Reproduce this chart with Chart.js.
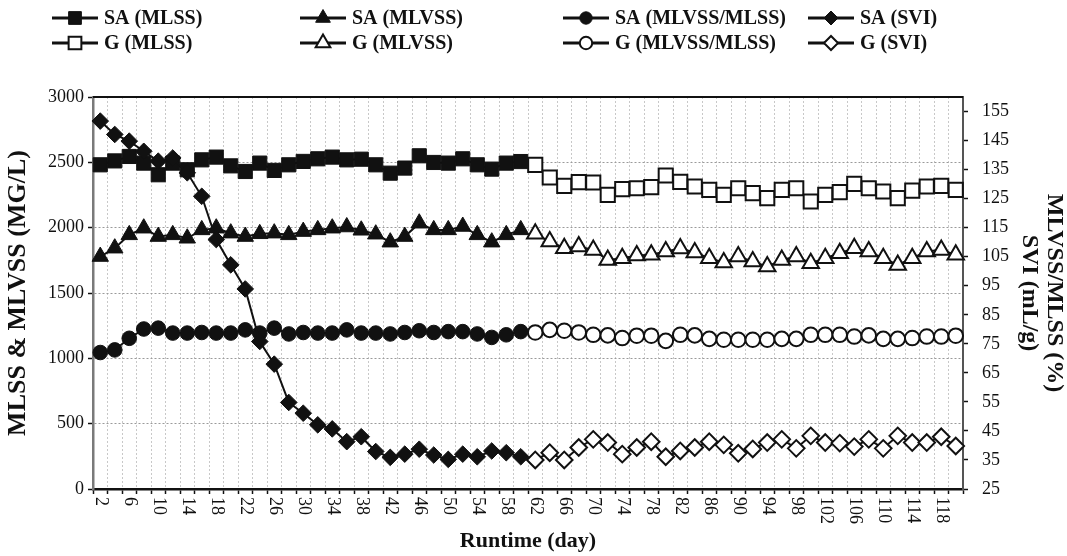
<!DOCTYPE html>
<html><head><meta charset="utf-8">
<script src="https://cdn.jsdelivr.net/npm/chart.js@4.4.0/dist/chart.umd.min.js"></script>
<style>html,body{margin:0;padding:0;background:#fff;}#wrap{position:relative;width:1067px;height:556px;}</style>
</head><body><div id="wrap"><canvas id="c" width="1067" height="556"></canvas></div>
<script>
const days = [2,4,6,8,10,12,14,16,18,20,22,24,26,28,30,32,34,36,38,40,42,44,46,48,50,52,54,56,58,60,
  62,64,66,68,70,72,74,76,78,80,82,84,86,88,90,92,94,96,98,100,102,104,106,108,110,112,114,116,118,120];
const leftTicks = [0,500,1000,1500,2000,2500,3000];
const rightTicks = [25,35,45,55,65,75,85,95,105,115,125,135,145,155];

const saMLSS = [2481,2511,2545,2494,2405,2494,2443,2519,2540,2473,2430,2494,2438,2481,2507,2527,2540,2519,2524,2481,2417,2456,2550,2499,2494,2527,2481,2448,2494,2506];
const saMLVSS = [1779,1843,1945,1996,1932,1945,1919,1983,1996,1958,1932,1953,1958,1945,1970,1983,1996,2005,1980,1950,1889,1932,2034,1983,1983,2009,1945,1889,1945,1983];
const saRatio = [72.0,72.9,76.9,80.1,80.4,78.7,78.7,78.9,78.7,78.7,79.8,78.7,80.4,78.4,78.9,78.7,78.7,79.8,78.7,78.7,78.4,78.9,79.5,78.9,79.2,79.2,78.4,77.2,78.1,79.2];
const saSVI = [151.7,147.1,144.8,141.3,137.9,139.0,133.9,125.8,110.9,102.2,93.9,75.8,68.0,54.8,51.1,47.1,45.7,41.3,43.0,37.9,35.9,37.0,38.7,36.7,35.2,37.0,36.1,38.1,37.5,36.1];
const gMLSS = [2481,2384,2320,2348,2346,2251,2295,2302,2310,2399,2350,2315,2289,2251,2302,2264,2226,2289,2302,2200,2251,2272,2335,2302,2277,2226,2284,2315,2320,2289];
const gMLVSS = [1953,1894,1843,1855,1830,1753,1766,1787,1792,1817,1840,1810,1766,1733,1779,1741,1702,1753,1779,1728,1766,1805,1843,1817,1766,1715,1766,1817,1830,1792];
const gRatio = [78.9,79.8,79.5,78.9,78.1,77.9,77.0,77.8,77.8,76.0,78.1,77.9,76.7,76.4,76.4,76.4,76.4,76.7,76.7,78.1,78.1,78.1,77.5,77.9,76.7,76.7,77.0,77.5,77.5,77.8];
const gSVI = [35.0,37.5,35.0,39.3,42.1,41.0,37.0,39.3,41.3,36.1,38.1,39.3,41.3,40.2,37.3,38.8,41.0,42.1,39.0,43.3,41.0,40.8,39.6,42.1,39.0,43.3,41.0,41.0,43.0,39.8];

const seriesNames = ['SA (MLSS)','SA (MLVSS)','SA (MLVSS/MLSS)','SA (SVI)','G (MLSS)','G (MLVSS)','G (MLVSS/MLSS)','G (SVI)'];

const INK = '#111111';
const SERIF = '"Liberation Serif", "Times New Roman", serif';
const nulls = n => Array(n).fill(null);
const early = a => a.concat(nulls(days.length - a.length));
const late = a => nulls(days.length - a.length).concat(a);

const styles = [
  {ps:'rect', r:10, lr:9}, {ps:'triangle', r:9.5, lr:8.5}, {ps:'circle', r:7.3, lr:6.2}, {ps:'rectRot', r:8.3, lr:7}
];

function mk(i, data, axis) {
  const st = styles[i % 4];
  const filled = i < 4;
  return {
    label: seriesNames[i], data, yAxisID: axis, order: -i,
    pointStyle: st.ps, pointRadius: st.r, pointHoverRadius: st.r,
    pointBackgroundColor: filled ? INK : '#ffffff', pointBorderColor: INK,
    pointBorderWidth: filled ? 1 : 2,
    borderColor: INK, backgroundColor: INK, borderWidth: 2, fill: false, tension: 0, spanGaps: false
  };
}

const datasets = [
  mk(0, early(saMLSS), 'yL'), mk(1, early(saMLVSS), 'yL'), mk(2, early(saRatio), 'yR'), mk(3, early(saSVI), 'yR'),
  mk(4, late(gMLSS), 'yL'), mk(5, late(gMLVSS), 'yL'), mk(6, late(gRatio), 'yR'), mk(7, late(gSVI), 'yR')
];

const extras = {
  id: 'extras',
  afterDraw(chart) {
    const ctx = chart.ctx, a = chart.chartArea;
    ctx.save();
    ctx.strokeStyle = INK; ctx.lineWidth = 2;
    ctx.beginPath(); ctx.moveTo(a.left, a.top); ctx.lineTo(a.right, a.top); ctx.stroke();
    const xs = chart.scales.x;
    ctx.fillStyle = INK; ctx.font = '18px ' + SERIF;
    ctx.textAlign = 'left'; ctx.textBaseline = 'middle';
    days.forEach((d, i) => {
      if (i % 2 !== 0) return;
      const x = xs.getPixelForValue(i);
      ctx.save(); ctx.translate(x, a.bottom + 8); ctx.rotate(Math.PI / 2);
      ctx.fillText(String(d), 0, 0); ctx.restore();
    });
    const colX = [52, 300, 563, 808], rowY = [18, 43];
    ctx.font = 'bold 20px ' + SERIF; ctx.textBaseline = 'middle';
    chart.data.datasets.forEach((ds, i) => {
      const x0 = colX[i % 4], y = rowY[Math.floor(i / 4)];
      const st = styles[i % 4];
      ctx.strokeStyle = INK; ctx.lineWidth = 3;
      ctx.beginPath(); ctx.moveTo(x0, y); ctx.lineTo(x0 + 46, y); ctx.stroke();
      ctx.fillStyle = i < 4 ? INK : '#ffffff';
      ctx.lineWidth = i < 4 ? 1 : 2;
      Chart.helpers.drawPoint(ctx, {pointStyle: st.ps, radius: st.lr, rotation: 0, borderWidth: ctx.lineWidth}, x0 + 23, y);
      ctx.fillStyle = INK;
      ctx.fillText(ds.label, x0 + 52, y + 1);
    });
    ctx.restore();
  }
};

new Chart(document.getElementById('c'), {
  type: 'line',
  data: { labels: days, datasets },
  plugins: [extras],
  options: {
    responsive: false, animation: false, devicePixelRatio: 1,
    layout: { padding: { top: 97, left: 0, right: 0, bottom: 0 } },
    plugins: { legend: { display: false }, tooltip: { enabled: false } },
    scales: {
      x: {
        type: 'category', offset: true,
        grid: { offset: true, color: '#c8c8c8', lineWidth: 1, tickLength: 5, tickColor: INK, tickWidth: 1.5, tickBorderDash: [] },
        border: { display: true, color: INK, width: 2.5, dash: [2, 2] },
        ticks: { display: false, autoSkip: false },
        title: { display: true, text: 'Runtime (day)', color: INK, font: { family: SERIF, size: 22, weight: 'bold' }, padding: { top: 0, bottom: 1 } },
        afterFit(s) { s.height = 67; }
      },
      yL: {
        position: 'left', min: 0, max: 3000,
        afterBuildTicks(s) { s.ticks = leftTicks.map(v => ({ value: v })); },
        grid: { color: '#9a9a9a', lineWidth: 1, tickLength: 5, tickColor: INK, tickWidth: 1.5, tickBorderDash: [] },
        border: { display: true, color: '#7a7a7a', width: 2.5, dash: [2, 2] },
        ticks: { color: INK, font: { family: SERIF, size: 18 }, padding: 4, callback: v => String(v) },
        title: { display: true, text: 'MLSS & MLVSS (MG/L)', color: INK, font: { family: SERIF, size: 26, weight: 'bold' }, padding: { top: 3, bottom: 0 } },
        afterFit(s) { s.width = 93; }
      },
      yR: {
        position: 'right', min: 25, max: 160,
        afterBuildTicks(s) { s.ticks = rightTicks.map(v => ({ value: v })); },
        grid: { drawOnChartArea: false, tickLength: 5, tickColor: INK, tickWidth: 1.5 },
        border: { display: true, color: '#555555', width: 2 },
        ticks: { color: INK, font: { family: SERIF, size: 18 }, padding: 14, callback: v => String(v) },
        title: { display: true, text: ['MLVSS/MLSS (%)', 'SVI (mL/g)'], color: INK, font: { family: SERIF, size: 24, weight: 'bold', lineHeight: 1.05 }, padding: { top: 0, bottom: 0 } },
        afterFit(s) { s.width = 104; }
      }
    }
  }
});
</script></body></html>
